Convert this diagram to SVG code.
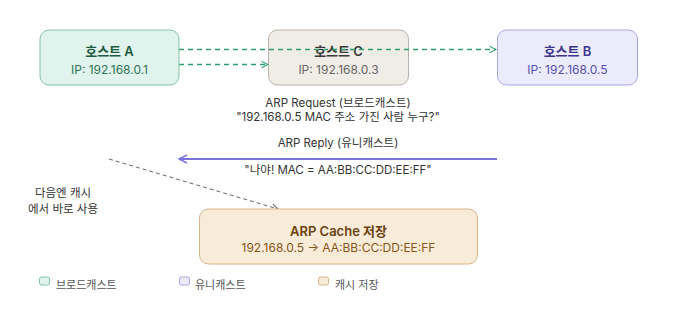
<svg xmlns="http://www.w3.org/2000/svg" width="678" height="322" viewBox="0 0 678 322">
<style>
text{font-family:Inter,"Noto Sans","Noto Sans CJK KR",sans-serif;text-anchor:middle}
.t{font-size:13px;font-weight:600}
.s{font-size:12px}
.l{font-size:11.5px;fill:#333}
.g{font-size:11px;fill:#555;text-anchor:start}
</style>
<defs>
<marker id="ag" viewBox="0 0 10 10" refX="9" refY="5" markerWidth="8" markerHeight="8" markerUnits="userSpaceOnUse" orient="auto"><path d="M1,1 L9,5 L1,9" fill="none" stroke="#2e9e6e" stroke-width="1.3"/></marker>
<marker id="ap" viewBox="0 0 10 10" refX="9" refY="5" markerWidth="10" markerHeight="10" markerUnits="userSpaceOnUse" orient="auto"><path d="M1,1 L9,5 L1,9" fill="none" stroke="#7b72d9" stroke-width="1.5"/></marker>
<marker id="ak" viewBox="0 0 10 10" refX="9" refY="5" markerWidth="8" markerHeight="8" markerUnits="userSpaceOnUse" orient="auto"><path d="M1,1 L9,5 L1,9" fill="none" stroke="#666" stroke-width="1.3"/></marker>
</defs>
<rect width="678" height="322" fill="#fff"/>
<g id="hostC">
<rect x="268.5" y="30" width="140" height="55" rx="9" fill="#f0ede6" stroke="#b8b3aa"/>
<text x="338.5" y="56" class="t" fill="#3a3a3a">호스트 C</text>
<text x="338.5" y="74" class="s" fill="#666">IP: 192.168.0.3</text>
</g>
<g id="connectors" fill="none">
<path d="M179,49.5 H496" stroke="#2e9e6e" stroke-width="1.3" stroke-dasharray="5,4" marker-end="url(#ag)"/>
<path d="M179,64.5 H268" stroke="#2e9e6e" stroke-width="1.3" stroke-dasharray="5,4" marker-end="url(#ag)"/>
<path d="M497,159 H179" stroke="#7b72d9" stroke-width="1.8" marker-end="url(#ap)"/>
<path d="M109,159 L278,209" stroke="#666" stroke-width="1" stroke-dasharray="4,3" marker-end="url(#ak)"/>
</g>
<g id="hostA">
<rect x="40" y="30" width="139" height="55" rx="9" fill="#e0f3ec" stroke="#86c2a8"/>
<text x="109.5" y="56" class="t" fill="#1f5a42">호스트 A</text>
<text x="109.5" y="74" class="s" fill="#2e7556">IP: 192.168.0.1</text>
</g>
<g id="hostB">
<rect x="497.5" y="30" width="140" height="55" rx="9" fill="#ecebfb" stroke="#aaa4e0"/>
<text x="567.5" y="56" class="t" fill="#3b3690">호스트 B</text>
<text x="567.5" y="74" class="s" fill="#5650ad">IP: 192.168.0.5</text>
</g>
<g id="labels">
<text x="338" y="107" class="l">ARP Request (브로드캐스트)</text>
<text x="338" y="120.5" class="l">"192.168.0.5 MAC 주소 가진 사람 누구?"</text>
<text x="338" y="147" class="l">ARP Reply (유니캐스트)</text>
<text x="338" y="174" class="l">"나야! MAC = AA:BB:CC:DD:EE:FF"</text>
<text x="63" y="197" class="l">다음엔 캐시</text>
<text x="63" y="213" class="l">에서 바로 사용</text>
</g>
<g id="cache">
<rect x="199.5" y="209" width="278" height="55" rx="9" fill="#f8ebd8" stroke="#d6b68c"/>
<text x="338.5" y="236" class="t" fill="#6b4210">ARP Cache 저장</text>
<text x="338.5" y="252" class="s" fill="#86561a">192.168.0.5 → AA:BB:CC:DD:EE:FF</text>
</g>
<g id="legend">
<rect x="39.5" y="277" width="10" height="8" rx="2" fill="#e0f3ec" stroke="#86c2a8"/>
<text x="56" y="289" class="g">브로드캐스트</text>
<rect x="179.5" y="277" width="10" height="8" rx="2" fill="#ecebfb" stroke="#aaa4e0"/>
<text x="195" y="289" class="g">유니캐스트</text>
<rect x="318.5" y="277" width="10" height="8" rx="2" fill="#f8ebd8" stroke="#d6b68c"/>
<text x="335" y="289" class="g">캐시 저장</text>
</g>
</svg>
